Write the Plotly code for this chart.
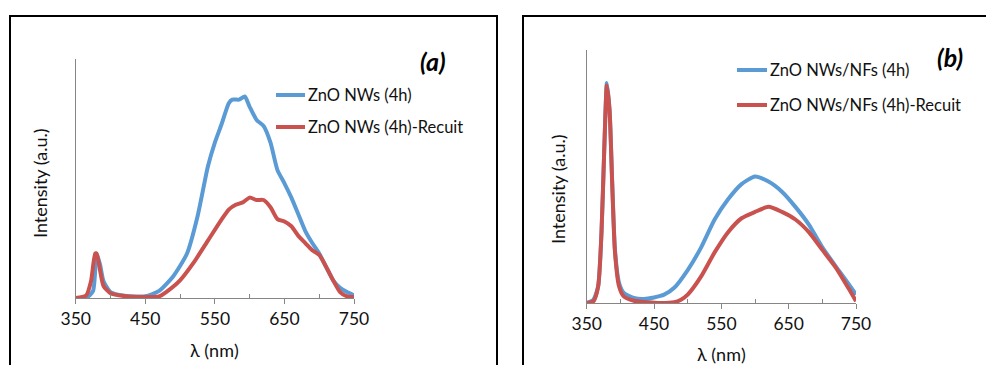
import plotly.graph_objects as go

BLUE = '#5B9BD5'
RED = '#C9524E'
FONT = 'Lato, Open Sans, sans-serif'

# panel (a)
wl_a_blue = [350, 365, 375, 380, 385, 390, 400, 420, 450, 470, 490, 510, 525, 540, 550,
             560, 570, 575, 585, 593, 600, 610, 620, 630, 640, 650, 660, 670, 680, 690,
             700, 710, 720, 730, 740, 750]
int_a_blue = [0.0, 0.0, 0.03, 0.186, 0.14, 0.07, 0.025, 0.01, 0.007, 0.03, 0.09, 0.186,
              0.34, 0.55, 0.65, 0.73, 0.815, 0.83, 0.83, 0.843, 0.80, 0.745, 0.72, 0.65,
              0.535, 0.48, 0.42, 0.35, 0.28, 0.23, 0.186, 0.13, 0.074, 0.043, 0.025, 0.011]

wl_a_red = [350, 365, 372, 378, 380, 385, 390, 400, 420, 450, 470, 480, 500, 520, 540,
            560, 570, 580, 590, 600, 610, 620, 630, 640, 650, 660, 670, 680, 690, 700,
            710, 720, 730, 740, 750]
int_a_red = [0.0, 0.01, 0.07, 0.186, 0.186, 0.116, 0.05, 0.02, 0.008, 0.004, 0.007, 0.025,
             0.074, 0.15, 0.24, 0.33, 0.37, 0.39, 0.40, 0.42, 0.41, 0.41, 0.38, 0.33,
             0.32, 0.30, 0.26, 0.23, 0.20, 0.18, 0.13, 0.074, 0.025, 0.007, 0.004]

# panel (b)
wl_b_blue = [350, 360, 367, 372, 376, 380, 384, 388, 392, 398, 405, 420, 435, 450, 465,
             480, 500, 520, 540, 560, 580, 600, 620, 640, 660, 680, 700, 720, 740, 750]
int_b_blue = [0.0, 0.013, 0.066, 0.28, 0.6, 0.87, 0.76, 0.47, 0.21, 0.08, 0.04, 0.02,
              0.016, 0.022, 0.033, 0.06, 0.13, 0.22, 0.33, 0.41, 0.47, 0.50, 0.48, 0.44,
              0.38, 0.31, 0.22, 0.145, 0.072, 0.033]

wl_b_red = [350, 360, 367, 372, 376, 380, 384, 388, 392, 398, 405, 420, 440, 460, 480,
            490, 500, 520, 540, 560, 580, 600, 620, 640, 660, 680, 700, 720, 740, 750]
int_b_red = [0.0, 0.007, 0.066, 0.28, 0.6, 0.86, 0.76, 0.46, 0.2, 0.066, 0.026, 0.009,
             0.003, 0.0, 0.003, 0.013, 0.033, 0.105, 0.20, 0.28, 0.335, 0.36, 0.38, 0.36,
             0.33, 0.28, 0.21, 0.14, 0.053, 0.007]

names_a = ['ZnO NWs (4h)', 'ZnO NWs (4h)-Recuit']
names_b = ['ZnO NWs/NFs (4h)', 'ZnO NWs/NFs (4h)-Recuit']
x_ticks = [350, 450, 550, 650, 750]
x_minor = [400, 500, 600, 700]

W, H = 994, 365
OFF = 8  # the page body adds an 8px margin around the plot div


def px(x):
    return (x - OFF) / W


def py(y):
    return 1 - (y - OFF) / H


fig = go.Figure()
series = [
    (wl_a_blue, int_a_blue, BLUE, 'x', 'y'),
    (wl_a_red, int_a_red, RED, 'x', 'y'),
    (wl_b_blue, int_b_blue, BLUE, 'x2', 'y2'),
    (wl_b_red, int_b_red, RED, 'x2', 'y2'),
]
for xs, ys, col, xa, ya in series:
    fig.add_trace(go.Scatter(x=xs, y=ys, mode='lines', xaxis=xa, yaxis=ya,
                             line=dict(color=col, width=4, shape='spline', smoothing=0.6),
                             showlegend=False))

axis_common = dict(range=[350, 750], tickvals=x_ticks, ticks='outside', ticklen=5,
                   tickcolor='#868686', showline=True, linecolor='#868686', linewidth=1,
                   showgrid=False, zeroline=False, automargin=False,
                   tickfont=dict(family=FONT, size=17.5, color='#111'),
                   minor=dict(tickvals=x_minor, ticks='inside', ticklen=4,
                              tickcolor='#868686', showgrid=False))
yaxis_common = dict(range=[0, 1], showticklabels=False, ticks='', showline=True,
                    linecolor='#868686', linewidth=1, showgrid=False, zeroline=False,
                    automargin=False)

fig.update_layout(
    width=W, height=H,
    margin=dict(l=0, r=0, t=0, b=0),
    paper_bgcolor='white', plot_bgcolor='white',
    xaxis=dict(domain=[px(75.7), px(354)], anchor='y', **axis_common),
    yaxis=dict(domain=[py(298), py(59)], anchor='x', **yaxis_common),
    xaxis2=dict(domain=[px(586.7), px(856)], anchor='y2', **axis_common),
    yaxis2=dict(domain=[py(303), py(50)], anchor='x2', **yaxis_common),
)

# panel borders (they run past the bottom and right edges)
fig.add_shape(type='rect', xref='paper', yref='paper', x0=px(10), x1=px(497), y0=-0.2, y1=py(16),
              line=dict(color='black', width=2))
fig.add_shape(type='rect', xref='paper', yref='paper', x0=px(523), x1=1.1, y0=-0.2, y1=py(16),
              line=dict(color='black', width=2))

# axis titles
title_font = dict(family=FONT, size=18, color='#111')
for x, y in [(214, 350), (721, 354)]:
    fig.add_annotation(text='λ (nm)', xref='paper', yref='paper', x=px(x), y=py(y),
                       xanchor='center', yanchor='middle', showarrow=False, font=title_font)
for x, y in [(40, 183), (558, 189)]:
    fig.add_annotation(text='Intensity (a.u.)', xref='paper', yref='paper', x=px(x), y=py(y),
                       xanchor='center', yanchor='middle', showarrow=False, textangle=-90,
                       font=title_font)

# hand-made legends
legends = [
    (276, 305, 95, names_a[0], BLUE),
    (276, 305, 127, names_a[1], RED),
    (737, 767, 70, names_b[0], BLUE),
    (737, 767, 105, names_b[1], RED),
]
for x0, x1, y, name, col in legends:
    fig.add_shape(type='line', xref='paper', yref='paper', x0=px(x0), x1=px(x1), y0=py(y), y1=py(y),
                  line=dict(color=col, width=4))
    fig.add_annotation(text=name, xref='paper', yref='paper', x=px(x1 + 1), y=py(y),
                       xanchor='left', yanchor='middle', showarrow=False,
                       font=dict(family=FONT, size=16.5, color='#111'))

for label, x, y in [('(a)', 433, 61), ('(b)', 950, 57)]:
    fig.add_annotation(text='<b><i>' + label + '</i></b>', xref='paper', yref='paper',
                       x=px(x), y=py(y), xanchor='center', yanchor='middle', showarrow=False,
                       font=dict(family=FONT, size=25, color='black'))

fig.write_html('out.html')
